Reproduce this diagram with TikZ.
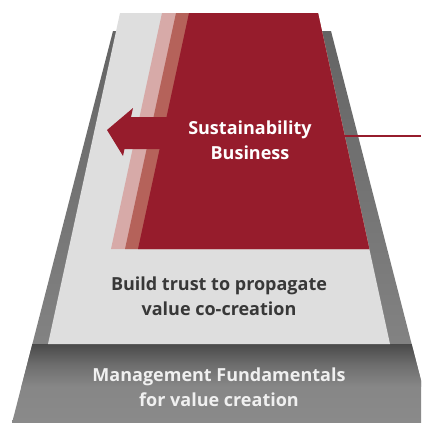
\documentclass[tikz,border=0pt]{standalone}
\usepackage{fontspec}
\setmainfont{Open Sans}
\definecolor{rubi}{HTML}{961C2C}
\definecolor{rosa}{HTML}{D7AAA8}
\definecolor{telha}{HTML}{B5625A}
\definecolor{claro}{HTML}{DEDEDE}
\definecolor{cinzatopo}{HTML}{646464}
\definecolor{cinzabase}{HTML}{8A8A8A}
\definecolor{cinzameio}{HTML}{868686}
\definecolor{sombra}{HTML}{4A4A4A}
\definecolor{texto}{HTML}{383838}
\begin{document}
\begin{tikzpicture}[
  x=1pt, y=-1pt,
  every node/.style={inner sep=0pt, align=center, font=\fontsize{18}{25}\selectfont\bfseries}
]
\tikzset{
  branco/.style={text=white},
  escuro/.style={text=texto},
  nevoa/.style={text=white!94!black}
}
\useasboundingbox (0,0) rectangle (421,423);
\clip (0,0) rectangle (421,423);
\begin{scope}
  \clip (113,31) -- (331,31) -- (432,423) -- (12,423) -- cycle;
  \shade[top color=cinzatopo, bottom color=cinzabase] (0,31) rectangle (440,423);
  \shade[top color=sombra, bottom color=cinzameio, middle color=sombra!40!cinzameio] (0,344) rectangle (440,386);
\end{scope}
\fill[claro] (120,13) -- (318,13) -- (390,344) -- (48,344) -- cycle;
\fill[rosa] (162,13) -- (318,13) -- (369.3,249) -- (111,249) -- cycle;
\fill[telha] (176,13) -- (318,13) -- (369.3,249) -- (125,249) -- cycle;
\fill[rubi] (189,13) -- (318,13) -- (369.3,249) -- (138,249) -- cycle;
\fill[rubi] (107,130) -- (133,108) -- (131,117) -- (200,117)
  -- (200,149) -- (124.5,149) -- (123,156) -- cycle;
\coordinate (borda) at (344,136);
\coordinate (fora) at (421,136);
\draw[rubi, line width=1.5pt] (borda) -- (fora);
\node[branco] (sus) at (250,140) {Sustainability\\Business};
\node[escuro] (trust) at (219,296) {Build trust to propagate\\value co-creation};
\node[nevoa] (mgmt) at (219,387) {Management Fundamentals\\for value creation};
\end{tikzpicture}
\end{document}
